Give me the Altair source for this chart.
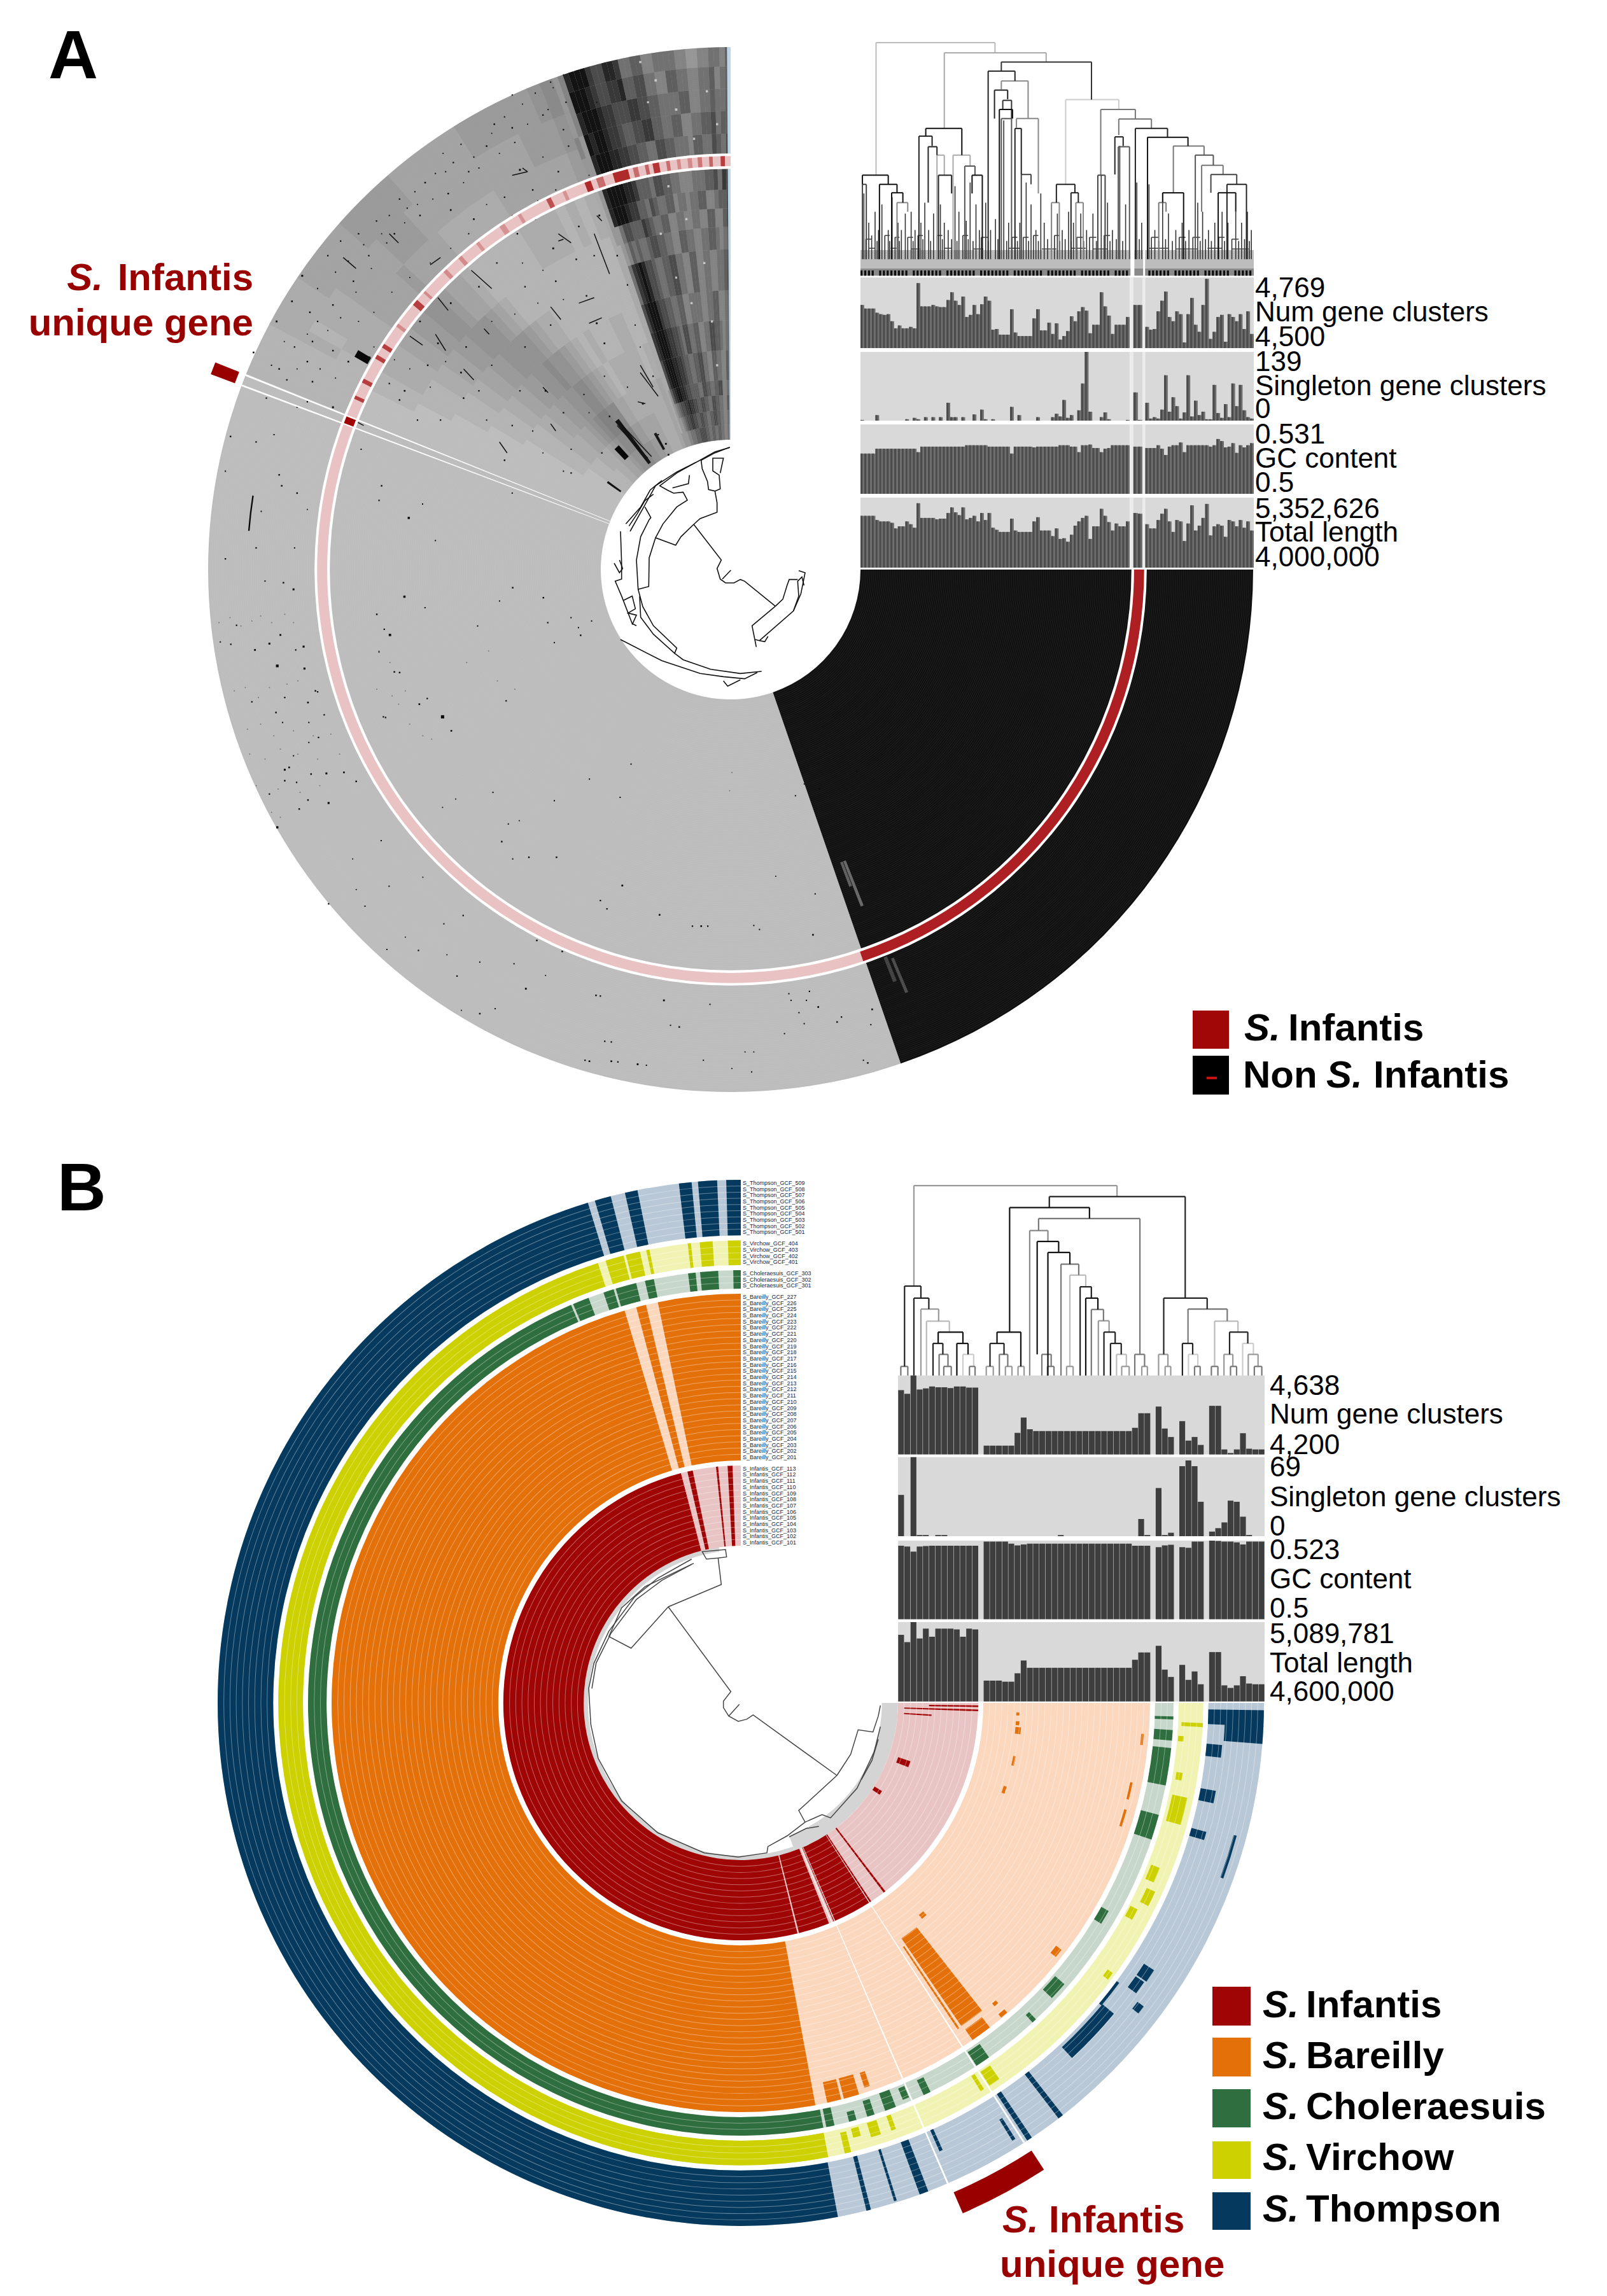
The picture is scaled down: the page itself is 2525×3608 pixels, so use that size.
import altair as alt
import pandas as pd

W, H = 2509, 3590
FONT = "Liberation Sans"
M = 8

# ---------- panel A : genome rings (value units: degrees, genome rank) ----------
A_CX, A_CY = 1148, 895
A_UNITS = 105.2
a_core_gray = [(161, 360, 0, A_UNITS)]
a_core_black = [(90, 161, 0, A_UNITS)]
a_white_ring = [(90, 360, 72.6, 76.7)]
a_red_ring = [(90, 161.3, 73.3, 76.0)]
a_pink_ring = [(161.3, 360, 73.3, 76.0)]
a_ring_specks = [(290.6,291.9,1),(294.4,294.9,.7),(296.9,297.5,.7),(300.7,301.3,.7),(302.5,303.1,.7),(306,306.5,.3),
    (309.8,310.7,.7),(312,312.4,.3),(316,316.6,.3),(318.8,319.4,.3),(322,322.5,.25),(326,326.8,.25),(329,329.5,.25),
    (333.5,334.2,.6),(336,336.5,.25),(339.3,340.2,.8),(341,342,.45),(343.4,345.6,.8),(346.3,347,.45),(348,348.5,.5),
    (349.1,350,.75),(351,351.5,.45),(352.5,353,.3),(354,354.6,.3),(355.4,356,.4),(357,357.5,.5),(358.6,359.2,.7)]
a_seams = [(290.55,290.75),(291.75,291.95)]
a_unique_band = [(290.6,291.9,107.1,114.0)]
a_lines = [(359.6,360,0,A_UNITS)]

# darkness read from the top wedge: one digit per 0.625 degree from 340 to 360, inner band first
a_wedge_start = 340.0
a_wedge_bands = [(0,4),(4,8),(8,12),(12,16),(16,24),(24,32),(32,40),(40,51),(51,57),(57,62),(62,67),(67,72.6),
                 (76.7,82),(82,88),(88,94),(94,100),(100,105.2)]
a_wedge_digits = [
    "22223344455566665544554455443344",
    "12234566776655665544556655443345",
    "12345667787766556655446655443355",
    "12578998876655554466554455663344",
    "11689998877655445566443355443355",
    "11789998776654664455334466554345",
    "11689997665544553344443344553345",
    "11478986654455664433553344334456",
    "11235454456655443355443344554345",
    "12246655576544553344334433553356",
    "12899987755465445534434455334556",
    "12899998875554665544333444556476",
    "22899988776655446655444355446546",
    "32989987765566775544553344556455",
    "23899987766677665544445533445445",
    "23999876677855664433554433445345",
    "23899976688744553344443322334435",
]
# faint darkness of the upper-left sector: one digit per 1.5 degree from 292 to 340
a_dust_start = 292.0
a_dust_bands = [(0,6),(6,12),(12,20),(20,30),(30,40),(40,50),(50,60),(60,72.6),(76.7,85),(85,95),(95,105.2)]
a_dust_digits = [
    "00000000011112233455665544332223",
    "00000000011122234566774433332223",
    "00000001112223345677663322222223",
    "00000001112233445566543212222212",
    "00000011122334455655432121112211",
    "00000111223344555543221111111111",
    "00001112233445554321111111111111",
    "00011222334455433211111122221212",
    "11111222233334333322222233333334",
    "11112122233333444333333333334445",
    "11112222333334444433333344444456",
]
a_black_light = [(158.4,158.9,49,62,.45),(159,159.5,49,56,.4),(157.2,157.6,78,88,.3),(158,158.5,77,84,.25)]
a_streak_arcs = [(322,323.4,1,15.5,.85),(316,318,6,10,.95),(305,305.8,1.3,5.7,.9),(330.5,331.5,2,7,.85),
    (274.6,278.8,94.5,94.9,.95),(299.5,300.5,77,81,.95)]

# speck readings, in two reading grids
lower_specks = [(205,50,9),(458,72,12),(182,30,6),(140,25,4),(705,45,6),(775,75,6),(675,85,4),(505,105,4),(395,125,6),(425,187,14),
 (412,170,5),(75,158,5),(175,187,8),(150,213,9),(117,232,8),(62,215,5),(38,208,4),(228,222,10),(210,232,5),(168,280,18),(230,288,10),
 (435,298,6),(447,300,6),(400,238,4),(255,355,6),(238,390,7),(185,375,5),(110,388,5),(260,358,5),(492,395,7),(510,378,5),(545,433,26),
 (565,475,7),(410,433,5),(415,435,5),(690,385,5),(165,420,6),(275,427,5),(240,450,4),(180,450,4),(262,495,5),(240,510,4),(205,550,4),
 (185,592,9),(195,585,7),(280,603,9),(245,605,6),(320,600,7),(348,627,6),(185,625,6),(212,630,5),(150,665,5),(238,683,6),(285,692,10),
 (218,710,6),(168,765,12),(785,150,5),(838,135,4),(860,188,6),(855,165,4),(800,210,4),(885,145,4),(625,160,4),(975,575,4),(880,620,4),
 (950,675,4),(800,685,4),(660,660,4),(575,680,3),(545,705,3),(720,745,3),(695,755,4),(680,808,6),(742,855,6),(805,855,6),(705,860,4),
 (955,940,8),(905,985,5),(920,1010,5),(1040,1028,7),(1255,1060,4),(1268,1072,4),(1390,1088,7),(1395,965,4),(1305,912,3),(1350,670,4),
 (1490,597,3),(1405,650,4),(1370,635,3),(405,805,4),(340,860,3),(500,915,3),(423,942,4),(348,952,3),(368,1002,4),(285,995,5),(592,1030,5),
 (548,1055,4),(460,1095,3),(418,1132,4),(490,1135,5),(555,1148,3),(630,1170,4),(708,1175,4),(578,1212,5),(780,1210,3),(735,1250,8),
 (665,1310,4),(630,1325,6),(588,1315,3),(895,1270,6),(905,1272,5),(1050,1285,8),(1155,1297,4),(1335,1265,4),(1340,1285,4),(1382,1258,5),
 (1375,1285,4),(1358,1322,4),(1402,1305,7),(1445,1350,6),(1455,1335,5),(1370,1355,4),(1525,1312,7),(1522,1358,4),(1085,1365,6),(1065,1360,4),
 (915,1408,5),(930,1410,5),(1325,1385,4),(1235,1440,3),(1255,1440,3),(880,1468,7),(870,1465,5),(930,1468,7),(945,1470,5),(990,1477,8),
 (1010,1480,4),(1140,1465,4),(1250,1500,4),(1515,1473,6),(1505,1465,4),(1205,1490,3),(760,1105,6),(818,1138,6),(1115,1062,5),(1135,1062,7),(1150,1062,5)]
lower_faint = [(35,150,3),(60,135,3),(85,160,3),(110,145,3),(130,130,3),(155,150,3),(185,125,3),(205,150,3),(70,355,3),(95,345,3),(125,375,3),
 (150,345,3),(190,335,3),(215,325,3),(100,470,3),(130,455,3),(160,490,3),(205,475,3),(250,490,3),(290,485,3),(105,545,3),(140,560,3),(175,530,3),
 (215,545,3),(260,560,3),(310,545,3),(120,640,3),(170,650,3),(220,660,3),(265,640,3),(155,720,3),(175,735,3),(400,235,3),(425,270,3),(395,350,3),
 (430,370,3),(460,355,3),(445,395,3),(470,455,3),(500,490,3),(520,500,3),(670,325,3),(710,350,3),(650,235,3),(600,270,3),(1205,600,3),(1200,655,3)]
upper_specks = [(590,755,9),(570,825,7),(605,855,6),(540,880,8),(495,965,7),(650,960,6),(610,935,6),(720,980,22),(680,990,7),(600,990,6),
 (650,1115,9),(500,1210,5),(450,1195,6),(535,1190,4),(545,1300,6),(550,1330,6),(580,1350,6),(745,1330,6),(798,1418,12),(1115,1295,5),
 (1065,1070,7),(935,1070,5),(790,1070,7),(780,1095,6),(560,1040,5),(520,1090,5),(900,1020,7),(1000,1165,5),(1255,1105,8),(1175,1240,5),
 (640,700,5),(665,660,5),(700,640,5),(735,605,5),(780,545,5),(830,500,6),(885,445,5),(950,400,6),(1000,350,6),(1060,315,5),(1100,355,5),
 (1105,280,5),(965,340,6),(915,470,5),(875,530,6),(820,590,6),(770,640,6),(720,700,5),(690,770,6),(650,835,6),(620,880,5),(575,950,5),
 (880,575,7),(925,600,7),(985,540,5),(1015,465,9),(1040,520,6),(1090,470,6),(1110,400,5),(1130,300,5),(1075,225,4),(1000,260,4),
 (1010,640,6),(1045,600,6),(1080,680,8),(1130,620,6),(1170,590,8),(1125,710,6),(1085,770,6),(1025,785,5),(970,720,5),(935,785,6),
 (880,830,7),(820,880,6),(770,930,6),(720,1020,6),(760,1050,5),(835,1000,6),(905,1090,6),(860,1150,5),(815,1150,5),(950,1150,4),
 (1015,1070,5),(1140,1080,4),(1180,940,7),(1240,890,4),(1275,1030,5),(1190,1140,6),(1100,1130,5),(1040,1180,4),(985,1260,6),(1115,1230,4),
 (1165,885,8),(1145,810,6),(1225,780,5),(1205,700,6),(1160,700,5),(1075,890,5),(1025,950,5),(960,1000,4),(910,950,6),(855,940,7),
 (1300,1215,8),(1305,1245,7),(1285,1190,5),(600,1100,5),(545,1010,6),(610,1045,6),(580,1115,4),(440,1290,4),(510,1400,4),(440,1530,5),
 (825,1380,4),(740,1370,5),(705,1230,4),(640,1300,5),(600,1395,3),(850,1480,4),(575,1500,4),(500,1500,5),(1100,1290,4),(1000,1350,4),
 (620,790,4),(655,745,4),(680,715,4),(710,670,4),(745,640,3),(760,590,4),(795,570,4),(810,525,4),(850,475,4),(865,420,3),(900,395,4),(925,430,4),
 (960,365,3),(985,320,4),(1020,285,3),(1045,255,4),(1080,240,3),(1100,205,3),(1070,300,4),(1030,340,3),(1005,390,4),(975,420,3),(935,460,4),
 (905,500,3),(870,470,4),(845,545,3),(815,560,3),(790,610,3),(755,665,4),(725,735,3),(695,800,3),(665,870,4),(640,905,3),(600,915,3),(555,935,3),
 (530,1000,4),(580,1010,3),(625,1010,4),(655,1035,3),(700,1060,3),(730,950,3),(770,985,3),(800,1010,3),(840,1060,3),(870,990,3),(700,880,3),
 (730,855,3),(765,800,3),(800,760,3),(840,720,3),(880,680,3),(915,640,4),(950,640,3),(950,560,3),(1000,590,3),(1050,550,3),(1060,430,3),(1150,340,3),
 (1085,520,4),(1120,530,3),(1150,480,3),(1185,420,3),(1165,280,3),(1020,720,3),(1060,740,3),(1100,820,3),(1050,830,3),(1005,860,3),(960,880,3),
 (1250,950,3),(1180,1030,4),(1225,1060,4),(1150,1130,3),(1060,1240,3)]
wedge_light = [(1280,220,14),(1320,300,14),(1355,380,12),(1250,170,12),(1380,250,12),(1400,340,12),(1305,510,12),(1340,600,12),(1375,720,12),
 (1350,830,12),(1390,880,12),(1400,1000,12),(1290,640,12),(1320,760,10),(1265,280,10)]
upper_streaks = [(670,705,695,735),(855,815,875,850),(800,920,825,945),(850,915,870,960),(905,1010,925,1040),(760,640,778,665),
 (1090,640,1115,665),(1160,640,1190,750),(1165,590,1175,605),(1020,460,1030,470),(1130,830,1160,815),(1150,885,1175,870),(975,1210,990,1240),
 (1075,1160,1085,1180),(1250,1020,1285,1085),(1245,1100,1260,1105),(920,740,960,790),(840,725,860,705),(1205,1165,1265,1255),(1215,1165,1272,1250),
 (1075,840,1095,875),(1250,1000,1275,1060),(945,900,955,915),(1060,1060,1070,1075),(1100,655,1090,660),(1030,470,1000,480),(690,1150,710,1165)]

# ---------- panel A : per-genome tracks, percent of each track's printed range ----------
a_num_left = [61,56,56,56,50,48,47,48,38,28,32,28,28,30,28,92,59,59,59,61,59,58,58,68,79,67,61,73,44,47,61,48,62,73,67,26,27,19,19,19,
              55,22,17,17,17,17,42,55,25,25,36,20,35,12,17,24,45,38,52,58,53,21,33,33,79,59,46,20,33,33,33,44]
a_num_mid = [61,61]
a_num_right = [30,26,27,52,67,80,44,38,52,48,8,48,71,33,23,61,98,13,23,44,47,9,48,44,38,48,27,52,20]
a_sing_left = [1,0,0,0,8,0,0,0,0,0,0,0,2,0,4,2,0,5,0,5,0,5,0,26,5,5,0,5,0,0,9,0,16,2,0,2,0,0,0,0,
               20,0,8,0,0,0,0,5,0,0,0,5,10,6,30,4,8,0,15,54,100,13,0,0,5,12,2,0,0,0,0,1]
a_sing_mid = [41,1]
a_sing_right = [26,3,5,3,16,66,13,34,21,3,12,66,6,29,8,13,2,2,52,11,4,24,5,54,21,52,15,5,3]
a_gc_left = [58,58,58,58]+[65]*11+[60]+[68]*12+[70]*6+[68]*6+[58]+[68]*5+[67]+[68]*6+[70]*3+[68]*2+[60,70,70,71,66,66,60,65,66]+[70]*5
a_gc_mid = [68,68]
a_gc_right = [66,66,66,70,65,56,68,70,70,74,60,70,70,70,70,70,70,68,70,79,76,67,68,73,59,70,67,70,73]
a_len_left = [74,74,74,74,68,66,66,66,64,56,59,59,66,62,57,92,71,71,71,71,69,70,70,78,86,79,75,86,69,71,74,66,78,68,78,57,54,51,51,51,
              70,53,51,51,51,51,66,72,53,53,53,45,56,41,42,37,47,60,66,71,74,41,59,59,84,74,65,53,63,59,59,66]
a_len_mid = [78,77]
a_len_right = [62,56,56,68,77,84,66,51,68,66,38,63,89,53,60,71,91,46,59,62,60,44,68,66,59,68,57,66,53]

# ---------- panel B : genome tracks, in their printed units ----------
b_groups = [13, 27, 3, 4, 9]
B_GAP = 0.82
b_num = [4557,4537,4638,4561,4567,4577,4573,4573,4569,4577,4577,4571,4571,
         4249,4249,4249,4249,4249,4320,4405,4340]+[4330]*16+[4348,4429,4429]+[4466,4344,4297,4385,4277,4297,4253,
         4470,4470,4228,4208,4228,4318,4232,4228,4228]
b_single = [36,0,69,1,1,0,1,1,0,0,0,0,0]+[0]*12+[1]+[0]*12+[15,1]+[42,1,3,61,66,61,30,4,7,12,31,30,17,1,0,0]
b_gc = [.5215,.5213,.5198,.5213,.5214,.5215,.5215,.5215,.5215,.5215,.5215,.5215,.5215,
        .5227,.5227,.5227,.5227,.5221,.5216,.5219]+[.5221]*17+[.5215,.5215,.5215]+[.5211,.5216,.5218,.5211,.5209,.5227,.5227,
        .523,.5229,.5227,.5227,.5225,.5219,.5227,.5227,.5227]
b_len = [5010800,4965600,5089781,4988200,5049100,4999500,5049100,5049100,5049100,5044600,4999500,5049100,5044600,
         4728600,4728600,4728600,4722000,4722000,4773800,4852800]+[4807700]*17+[4857300,4902400,4902400]+[4943100,4796400,4751200,4825700,4733200,4785100,4706100,
         4904700,4904700,4699300,4683500,4699300,4755700,4710600,4706100,4706100]

# ---------- panel B : rings ----------
B_CX, B_CY = 1164, 2676
b_names = ["Infantis", "Bareilly", "Choleraesuis", "Virchow", "Thompson"]
b_dark = ["#a00505", "#e4700a", "#2f6e3e", "#cdd100", "#053a5e"]
b_pale = ["#e9c4c4", "#fbd7be", "#c8d7cb", "#f0f3b2", "#b8c8d6"]
b_dark_segments = [
    [(146.7,157),(158.2,165.8),(166.2,345.5),(347,348.3),(354,354.5),(356.8,358),(142.5,143)],
    [(169.5,343.5),(345.2,346.6),(348.3,360)],
    [(169,336.9),(337.2,339.4),(341.5,342.9),(343.2,346),(347.2,348.4),(353,354),(354.6,357),(359,360)],
    [(169.1,342),(343,345.3),(345.6,347.4),(348.2,348.6),(353.4,353.8),(354.9,356.5),(358.4,360)],
    [(169.3,343),(343.8,345.6),(347.2,348.6),(353.2,354.6),(355.3,357.4),(358.4,360)],
]
b_patches = [
    (109,111,1.5,3.6,0),(122,123.5,.1,1.5,0),(91.6,92,1,13,0),(93.5,93.9,1,5.5,0),(90.6,91,5,13,0),
    (141.9,145.7,20.7,37.9,1),(142.5,145.5,38.7,40.8,1),(165.8,167.8,37.4,40.8,1),(163.2,165.4,37.4,40.8,1),(92,92.6,19.2,19.7,1),
    (93.8,94.6,19.2,19.8,1),(95,96.4,19.2,20.1,1),(94.4,96,39.6,40,1),(101,103,19.5,19.9,1),(107.5,109,19.2,19.7,1),(101.5,104,38.9,39.3,1),
    (105.5,108,39,39.4,1),(138.8,140,19.4,20.2,1),(127.6,128.9,39,40.1,1),(139.4,140.1,38,38.6,1),(139.3,140.4,40,40.7,1),(146.1,146.4,22,38,1),
    (161.4,162.2,37.5,40,1),
    (96,101,41.64,44.64,2),(93.6,95,41.64,44.64,2),(91.8,92.2,41.64,44.64,2),(105,108.4,41.64,44.64,2),(119.5,121.5,41.64,43,2),(131,133.5,42,44,2),
    (145,147,42,44.64,2),(154,155,42,44.64,2),(156.9,157.8,42,44,2),(159,160.5,41.64,44.64,2),(162,163,42,44.64,2),(164.5,165.5,43,44.64,2),
    (167.5,168.6,41.64,44.64,2),(137,137.6,43,44.64,2),
    (102,105.5,46,48.5,3),(111.5,113.5,46,47.5,3),(114.5,116.5,46.8,48.3,3),(117.5,119,45.7,47,3),(126,127,48,49,3),(94.3,95,45.6,46.5,3),
    (92.5,93,46,49.46,3),(99,100,46,47,3),(145.5,147,45.8,48.5,3),(147.8,148.3,45.6,48.5,3),(160,160.6,45.5,48,3),(162,163.3,45.6,48,3),
    (164.5,165.5,45.8,47.3,3),(166.2,167,46,49.46,3),
    (90.8,92.6,50.28,59.28,4),(92.5,94.5,53,59.28,4),(95,96.5,50.28,52.8,4),(100.5,102,50.3,52.8,4),(105.5,106.5,50.3,52.8,4),(105,110,57.2,57.7,4),
    (122.9,124.5,52.3,54.3,4),(124.7,126.3,52.3,54,4),(127,128,55,56.3,4),(129.8,137,50.8,53.2,4),(126.5,130,50.3,50.8,4),(142,142.6,50.28,59.28,4),
    (146.2,146.8,50.28,59.28,4),(159,160,50.28,59.28,4),(165.6,166.1,50.28,59.28,4),(162.6,162.9,50.28,59,4),(155.7,156.1,50.28,54,4),(147.8,148.2,54,58,4),
]
b_gray_ring = [(90,160,-2.6,0),(160,352,-0.7,0.2)]
b_white_lines = [(147.1,147.3,0,59.28),(156.6,156.8,0,59.28),(345.4,345.5,0,13),(157.4,157.6,0,13)]
b_unique_band = [(147,156.5,61,64.7)]

# ---------- dendrograms ----------
# (left, right, height, left end, right end, shade)
tree_b_nodes = [(117,552,110,385,140,"#999"),(407,698,140,170,418,"#222"),(322,493,170,510,200,"#111"),(384,601,200,233,572,"#777"),
 (365,404,233,630,263,"#888"),(381,427,263,572,293,"#111"),(404,451,293,630,325,"#111"),(432,470,325,630,355,"#777"),(451,485,355,605,387,"#bbb"),
 (473,497,387,630,418,"#222"),(485,511,418,630,449,"#111"),(497,523,449,630,480,"#777"),(512,535,480,630,511,"#999"),(524,548,511,630,542,"#222"),
 (538,561,542,630,572,"#222"),(551,572,572,630,605,"#bbb"),(562,578,605,630,630,"#999"),(590,611,572,630,605,"#777"),(605,617,605,630,630,"#999"),
 (391,411,572,630,605,"#777"),(403,417,605,630,630,"#777"),(444,458,605,630,630,"#999"),
 (97,132,385,605,418,"#222"),(89,104,605,630,630,"#777"),(117,149,418,630,448,"#222"),(132,170,448,630,481,"#999"),(144,193,481,630,511,"#bbb"),
 (169,222,511,542,542,"#111"),(158,179,542,630,572,"#222"),(171,190,572,630,605,"#777"),(181,197,605,630,630,"#777"),(209,233,542,630,572,"#111"),
 (222,245,572,630,605,"#ccc"),(236,248,605,630,630,"#777"),
 (295,346,511,542,605,"#111"),(280,310,542,605,572,"#222"),(300,318,572,630,605,"#777"),(272,287,605,630,630,"#999"),(313,327,605,630,630,"#999"),(340,353,605,630,630,"#999"),
 (652,745,418,572,448,"#222"),(704,788,448,542,481,"#777"),(641,661,572,630,605,"#999"),(655,667,605,630,630,"#999"),(692,714,542,630,572,"#222"),
 (705,725,572,630,605,"#ccc"),(718,730,605,630,630,"#777"),(761,811,481,605,511,"#bbb"),(754,768,605,630,630,"#777"),(793,832,511,572,542,"#222"),
 (781,800,572,630,605,"#999"),(795,808,605,630,630,"#777"),(821,844,542,630,572,"#ccc"),(833,854,572,630,605,"#999"),(846,862,605,630,630,"#777")]
tree_a_nodes = [(100,344,47,410,75,"#bbb"),(240,449,75,282,100,"#aaa"),(357,542,100,125,203,"#333"),(330,385,125,640,152,"#222"),(357,412,152,175,255,"#888"),
 (343,370,177,255,202,"#222"),(360,378,205,230,255,"#333"),(353,380,230,640,255,"#111"),(357,378,255,640,640,"#555"),(388,433,255,280,460,"#888"),
 (385,398,282,640,408,"#222"),(398,418,408,640,435,"#444"),(72,125,410,435,435,"#111"),(107,143,435,640,458,"#111"),(132,155,458,640,485,"#111"),
 (143,165,485,640,510,"#888"),(72,80,435,640,640,"#444"),(202,276,282,303,355,"#111"),(188,215,303,640,330,"#222"),(207,225,332,485,355,"#222"),
 (225,240,355,640,410,"#aaa"),(228,255,410,640,460,"#222"),(258,293,355,640,385,"#aaa"),(282,303,385,640,410,"#555"),(297,318,410,460,640,"#111"),
 (489,598,203,435,230,"#ccc"),(561,632,230,410,255,"#777"),(598,665,256,300,282,"#777"),(632,698,282,640,305,"#222"),(657,740,306,640,330,"#111"),
 (710,773,330,458,355,"#777"),(755,792,355,640,383,"#555"),(768,812,383,510,408,"#777"),(787,840,408,458,435,"#444"),(820,860,435,640,640,"#222"),
 (802,838,458,640,510,"#111"),(590,607,305,408,330,"#222"),(597,620,332,640,640,"#555"),(470,508,435,485,458,"#222"),(500,515,458,640,485,"#222"),
 (688,731,458,485,640,"#111"),(680,695,485,640,510,"#777"),(555,570,410,640,640,"#444"),(460,476,485,640,640,"#888"),(510,525,485,640,640,"#888")]
tree_a_stems = [(75,460),(85,540),(98,510),(105,560),(112,490),(125,560),(133,470),(145,540),(152,560),(160,515),(172,510),(180,560),(192,540),(200,485),
 (208,560),(218,515),(232,490),(240,540),(248,560),(262,440),(270,510),(285,535),(293,430),(305,490),(312,560),(325,485),(335,560),(345,530),(362,260),
 (372,540),(385,560),(395,540),(408,430),(418,490),(428,560),(438,460),(445,540),(460,490),(472,515),(482,560),(495,510),(505,540),(520,515),(532,560),
 (545,515),(562,410),(575,485),(585,560),(600,330),(612,490),(635,430),(645,540),(660,435),(672,560),(688,460),(700,515),(715,560),(728,540),(742,560),
 (760,485),(770,510),(782,560),(795,540),(810,510),(822,540),(838,510),(850,540),(862,510),(870,560),
 (79,585),(91,575),(102,590),(118,575),(128,590),(139,580),(148,590),(165,580),(176,590),(186,575),(196,585),(212,590),(225,575),(236,585),(255,585),(266,590),
 (278,575),(289,585),(299,590),(316,580),(330,590),(350,585),(368,590),(379,580),(390,590),(402,580),(413,590),(423,575),(433,590),(452,585),(466,575),(477,590),
 (488,585),(500,590),(512,580),(526,590),(538,580),(552,590),(568,575),(580,590),(593,585),(606,590),(640,585),(665,580),(680,590),(694,585),(708,590),(722,580),
 (735,590),(750,580),(765,590),(776,585),(788,590),(803,580),(815,590),(830,585),(844,590),(856,585),(866,590)]
tree_a_twigs = [(79,91,585),(118,128,575),(139,148,580),(165,176,580),(186,196,575),(225,236,575),(278,289,575),(316,330,580),(379,390,580),(402,413,580),
 (423,433,575),(466,477,575),(512,526,580),(538,552,580),(568,580,575),(665,680,580),(722,735,580),(750,765,580),(803,815,580),(830,844,585),
 (85,98,610),(130,145,610),(172,190,612),(240,255,610),(300,320,612),(372,395,610),(440,470,612),(500,530,610),(545,575,612),(660,700,610),(715,760,612),(780,810,610),(830,865,612)]
# polylines of the radial trees, read on a square reading grid
tree_a_center = [
 [(480,432),(610,600),(590,640),(605,690),(630,708),(670,708),(700,692),(720,700),(865,818)],
 [(615,690),(655,648)],
 [(865,818),(900,785),(920,720),(930,692),(970,692)],
 [(865,818),(755,910),(765,960),(775,1010)],
 [(790,980),(950,840),(985,760),(1005,660),(975,650)],
 [(480,432),(510,405),(590,375),(590,330),(580,275),(550,268),(545,230),(520,170),(515,130),(580,95),(650,68)],
 [(580,275),(605,265),(600,200),(570,180),(570,120),(620,120),(605,190)],
 [(480,432),(420,490),(395,530),(300,495),(335,430),(400,350),(450,318),(430,280),(385,285),(355,270),(320,250),(400,190),(490,140)],
 [(380,260),(455,240),(460,200)],
 [(300,495),(270,590),(268,725),(218,738),(210,600),(230,490),(270,410),(278,400),(250,350)],
 [(218,738),(240,820),(290,910),(400,1015),(390,1040),(290,950),(230,870),(225,770)],
 [(390,1040),(430,1070),(560,1115),(700,1135),(800,1125)],
 [(135,975),(330,1075),(510,1135),(620,1150),(720,1160),(780,1130)],
 [(620,1170),(640,1195),(700,1165)],
 [(135,465),(140,610),(140,690),(110,700),(140,770),(190,900),(210,910)],
 [(105,615),(130,660),(145,640),(130,600)],
 [(180,465),(250,340),(300,250),(400,185),(500,135),(580,90),(650,70)],
 [(175,440),(215,380),(250,320),(290,290)],
 [(150,790),(190,770),(205,830),(170,850),(210,860),(190,905)],
 [(770,975),(790,980),(815,985),(830,960)],
 [(950,840),(975,770),(970,700),(990,680),(1000,720)],
 [(160,430),(230,350),(275,270),(330,225)],
]
tree_b_center = [
 [(450,315),(745,715),(710,760),(710,790),(735,830),(780,855),(820,845),(850,825),(1245,1110)],
 [(735,830),(785,775)],
 [(1245,1110),(1310,1010),(1345,895),(1415,905),(1440,830),(1450,780)],
 [(1245,1110),(1065,1275),(1095,1330),(1175,1295),(1215,1310),(1340,1170),(1420,1000),(1450,880)],
 [(1095,1330),(1010,1395),(920,1445),(915,1475),(780,1495),(620,1475),(400,1380),(230,1230),(120,1030),(85,870),(75,700),(100,580),(170,430),(290,270),(400,180),(560,90)],
 [(450,315),(275,510),(170,455),(230,320),(340,220),(570,110)],
 [(450,315),(700,210),(685,85),(630,90),(610,55),(720,45),(725,80),(685,85)],
 [(90,700),(110,580),(180,440),(300,280),(420,190),(560,115)],
 [(1020,1400),(1100,1360),(1160,1350)],
 [(1360,1130),(1410,1040),(1440,940)],
]

# ---------- helpers ----------
PI2 = 6.283185307
def arcs(rows, cx, cy, rdom, rrng, color=None, op=None):
    cols = ["t0", "t1", "r0", "r1"] + (["op"] if rows and len(rows[0]) == 5 else [])
    df = pd.DataFrame(rows, columns=cols)
    kw = {}
    if color is not None:
        kw["color"] = color
    if op is not None:
        kw["opacity"] = op
    enc = dict(
        x=alt.value(cx - M), y=alt.value(cy - M),
        theta=alt.Theta("t0:Q", scale=alt.Scale(domain=[0, 360], range=[0, PI2])),
        theta2=alt.Theta2("t1:Q"),
        radius=alt.Radius("r0:Q", scale=alt.Scale(type="linear", domain=rdom, range=rrng, zero=False)),
        radius2=alt.Radius2("r1:Q"),
    )
    if "op" in cols:
        enc["opacity"] = alt.Opacity("op:Q", scale=None)
    return alt.Chart(df).mark_arc(**kw).encode(**enc)

a_dom, a_rng = [0, A_UNITS], [204, 821]
def a_arc(rows, color, op=None):
    return arcs(rows, A_CX, A_CY, a_dom, a_rng, color, op)

b_total = sum(b_groups) + B_GAP * (len(b_groups) - 1)
b_dom, b_rng = [0, b_total], [247, 822]
def b_arc(rows, color, op=None):
    return arcs(rows, B_CX, B_CY, b_dom, b_rng, color, op)

def xs(dom, rng):
    return alt.Scale(domain=dom, range=[rng[0] - M, rng[1] - M], zero=False, nice=False)

def rects(rows, xdom, xrng, ydom, yrng, color):
    df = pd.DataFrame(rows, columns=["a", "b", "lo", "hi"])
    return alt.Chart(df).mark_rect(color=color).encode(
        x=alt.X("a:Q", scale=xs(xdom, xrng), axis=None), x2="b:Q",
        y=alt.Y("lo:Q", scale=xs(ydom, yrng), axis=None), y2="hi:Q")

def texts(rows, size, color="#000", bold=False, italic=False, align="left"):
    df = pd.DataFrame(rows, columns=["s", "px", "py"])
    df["px"] -= M
    df["py"] -= M
    kw = dict(font=FONT, fontSize=size, color=color, align=align, baseline="alphabetic")
    if bold:
        kw["fontWeight"] = "bold"
    if italic:
        kw["fontStyle"] = "italic"
    return alt.Chart(df).mark_text(**kw).encode(
        x=alt.X("px:Q", scale=None, axis=None), y=alt.Y("py:Q", scale=None, axis=None), text="s:N")

def tree(nodes, xdom, xrng, yrng, width):
    out = []
    for shade in sorted(set(n[5] for n in nodes), reverse=True):
        hs, vs = [], []
        for a, b, h, la, ra, s in nodes:
            if s != shade:
                continue
            hs.append((a, b, h))
            vs += [(a, h, la), (b, h, ra)]
        sx, sy = xs(xdom, xrng), xs([0, 1568], yrng)
        out.append(alt.Chart(pd.DataFrame(hs, columns=["a", "b", "h"])).mark_rule(color=shade, strokeWidth=width).encode(
            x=alt.X("a:Q", scale=sx, axis=None), x2="b:Q", y=alt.Y("h:Q", scale=sy, axis=None)))
        out.append(alt.Chart(pd.DataFrame(vs, columns=["a", "h", "e"])).mark_rule(color=shade, strokeWidth=width).encode(
            x=alt.X("a:Q", scale=sx, axis=None), y=alt.Y("h:Q", scale=sy, axis=None), y2="e:Q"))
    return out

def polylines(paths, grid, xrng, yrng, color, width):
    rows = [(i, j, p[0], p[1]) for i, path in enumerate(paths) for j, p in enumerate(path)]
    df = pd.DataFrame(rows, columns=["b", "o", "u", "v"])
    return alt.Chart(df).mark_line(color=color, strokeWidth=width).encode(
        x=alt.X("u:Q", scale=xs([0, grid], xrng), axis=None),
        y=alt.Y("v:Q", scale=xs([0, grid], yrng), axis=None),
        detail="b:N", order="o:Q")

def specks(rows, xrng, yrng, color="#0c0c0c", op=1):
    df = pd.DataFrame(rows, columns=["u", "v", "sz"])
    return alt.Chart(df).mark_point(filled=True, shape="square", color=color, opacity=op).encode(
        x=alt.X("u:Q", scale=xs([0, 1568], xrng), axis=None),
        y=alt.Y("v:Q", scale=xs([0, 1568], yrng), axis=None),
        size=alt.Size("sz:Q", scale=None))

L = []
# ---- panel A rings
L.append(a_arc(a_core_gray, "#bcbcbc"))
L.append(a_arc(a_core_black, "#101010"))
a_ring_rows = [(90, 360, i * 0.5, i * 0.5 + 0.15, 0.07) for i in range(2 * int(A_UNITS))]
L.append(a_arc(a_ring_rows, "#ffffff"))
dust_rows = []
for (r0, r1), digits in zip(a_dust_bands, a_dust_digits):
    for k, d in enumerate(digits):
        if d != "0":
            dust_rows.append((a_dust_start + 1.5 * k, a_dust_start + 1.5 * (k + 1), r0, r1, int(d) * 0.045))
L.append(a_arc(dust_rows, "#000000"))
wedge_rows = []
for (r0, r1), digits in zip(a_wedge_bands, a_wedge_digits):
    for k, d in enumerate(digits):
        wedge_rows.append((a_wedge_start + 0.625 * k, a_wedge_start + 0.625 * (k + 1), r0, r1, int(d) * 0.1))
L.append(a_arc(wedge_rows, "#000000"))
L.append(a_arc(a_streak_arcs, "#000000"))
L.append(a_arc(a_black_light, "#d0d0d0"))
L.append(specks(lower_faint, (320, 1400), (900, 1720), "#555555", 0.7))
L.append(specks(lower_specks, (320, 1400), (900, 1720)))
L.append(specks(upper_specks, (0, 1262), (0, 900)))
L.append(specks(wedge_light, (0, 1262), (0, 900), "#cfcfcf", 0.9))
L.append(alt.Chart(pd.DataFrame(upper_streaks, columns=["a", "b", "c", "d"])).mark_rule(color="#111", strokeWidth=1.5).encode(
    x=alt.X("a:Q", scale=xs([0, 1568], (0, 1262)), axis=None), y=alt.Y("b:Q", scale=xs([0, 1568], (0, 900)), axis=None),
    x2="c:Q", y2="d:Q"))
L.append(a_arc(a_lines, "#bcd7ea"))
L.append(a_arc(a_white_ring, "#ffffff"))
L.append(a_arc(a_pink_ring, "#e9c3c3"))
L.append(a_arc(a_red_ring, "#ad1f22"))
L.append(a_arc([(t0, t1, 73.3, 76.0, o) for t0, t1, o in a_ring_specks], "#a00505"))
L.append(a_arc([(t0, t1, 0, A_UNITS) for t0, t1 in a_seams], "#ffffff"))
L.append(a_arc(a_unique_band, "#990000"))
L.append(polylines(tree_a_center, 1290, (930, 1360), (680, 1110), "#111", 1.6))

# ---- panel A tracks
a_groups = [(0, 1.0, 72), (73, 1.2, 2), (76.2, 1.0, 29)]
a_dom_x = [0, A_UNITS]
a_x_rng = (1352, 1970)
a_tracks = [
    (a_num_left, a_num_mid, a_num_right, 547, 436),
    (a_sing_left, a_sing_mid, a_sing_right, 661, 553),
    (a_gc_left, a_gc_mid, a_gc_right, 776, 667),
    (a_len_left, a_len_mid, a_len_right, 892, 782),
]
for left, mid, right, bottom, top in a_tracks:
    L.append(rects([(0, A_UNITS, 0, 100)], a_dom_x, a_x_rng, [0, 100], (bottom, top), "#d9d9d9"))
    L.append(rects([(72, 73, 0, 100), (75.4, 76.2, 0, 100)], a_dom_x, a_x_rng, [0, 100], (bottom, top), "#ececec"))
    full, core = [], []
    for (start, w, n), vals in zip(a_groups, (left, mid, right)):
        for i, v in enumerate(vals[:n]):
            full.append((start + i * w, start + (i + 1) * w, 0, v))
            core.append((start + i * w, start + (i + 0.55) * w, 0, v))
    L.append(rects(full, a_dom_x, a_x_rng, [0, 100], (bottom, top), "#6e6e6e"))
    L.append(rects(core, a_dom_x, a_x_rng, [0, 100], (bottom, top), "#4c4c4c"))

# ---- panel A dendrogram
tree_x_a, tree_y_a = [68, 875], (40, 940)
L.append(rects([(68, 622, 615, 665), (630, 648, 615, 665), (652, 875, 615, 665)], tree_x_a, (1352, 1970), [0, 1568], tree_y_a, "#bdbdbd"))
L.append(rects([(68, 622, 665, 685), (630, 648, 665, 685), (652, 875, 665, 685)], tree_x_a, (1352, 1970), [0, 1568], tree_y_a, "#8a8a8a"))
stem_rows = [(x, t, 640) for x, t in tree_a_stems]
L.append(alt.Chart(pd.DataFrame(stem_rows, columns=["a", "h", "e"])).mark_rule(color="#333", strokeWidth=1.6).encode(
    x=alt.X("a:Q", scale=xs(tree_x_a, (1352, 1970)), axis=None),
    y=alt.Y("h:Q", scale=xs([0, 1568], tree_y_a), axis=None), y2="e:Q"))
L.append(alt.Chart(pd.DataFrame(tree_a_twigs, columns=["a", "b", "h"])).mark_rule(color="#444", strokeWidth=1.6).encode(
    x=alt.X("a:Q", scale=xs(tree_x_a, (1352, 1970)), axis=None), x2="b:Q",
    y=alt.Y("h:Q", scale=xs([0, 1568], tree_y_a), axis=None)))
tick_rows = []
for i in range(0, 72):
    if i % 9 != 4:
        tick_rows.append((i, i + 0.55, 82, 100))
for i in range(77, 105):
    if i % 8 != 3:
        tick_rows.append((i, i + 0.55, 82, 100))
L.append(rects(tick_rows, a_dom_x, a_x_rng, [0, 100], (640 / 1.742 + 40 - 20, 685 / 1.742 + 40), "#0d0d0d"))
L += tree(tree_a_nodes, tree_x_a, (1352, 1970), tree_y_a, 2.0)

# ---- panel B rings
pos = 0.0
b_ring_edges = []
b_group_span = []
for n in b_groups:
    b_group_span.append((pos, pos + n))
    b_ring_edges += [pos + k for k in range(1, n)]
    pos += n + B_GAP
L.append(b_arc(b_gray_ring, "#d4d4d4"))
for k, (lo, hi) in enumerate(b_group_span):
    L.append(b_arc([(90, 360, lo, hi)], b_pale[k]))
    L.append(b_arc([(t0, t1, lo, hi) for t0, t1 in b_dark_segments[k]], b_dark[k]))
    L.append(b_arc([p[:4] for p in b_patches if p[4] == k], b_dark[k]))
L.append(b_arc([(90, 360, e - 0.05, e + 0.05) for e in b_ring_edges], "#ffffff", 0.38))
L.append(b_arc(b_white_lines, "#ffffff"))
L.append(b_arc(b_unique_band, "#990000"))
L.append(polylines(tree_b_center, 1560, (900, 1420), (2420, 2940), "#444", 1.5))

# ---- panel B genome labels
lab_rows = []
for k, (lo, hi) in enumerate(b_group_span):
    for i in range(int(hi - lo)):
        lab_rows.append((f"S_{b_names[k]}_GCF_{k+1}{i+1:02d}", lo + i + 0.5))
L.append(alt.Chart(pd.DataFrame(lab_rows, columns=["s", "p"])).mark_text(
    font=FONT, fontSize=9, color="#141e3c", align="left", baseline="middle").encode(
    x=alt.value(1167 - M), y=alt.Y("p:Q", scale=xs(b_dom, (B_CY - 247, B_CY - 822)), axis=None), text="s:N"))

# ---- panel B tracks
b_x_rng = (1411, 1987)
b_tracks = [(b_num, 4200, 4638, 2285.6, 2161.6), (b_single, 0, 69, 2414, 2289.7),
            (b_gc, 0.5, 0.523, 2544.5, 2421), (b_len, 4600000, 5089781, 2673.7, 2549)]
for vals, lo, hi, bottom, top in b_tracks:
    L.append(rects([(0, b_total, lo, hi)], b_dom, b_x_rng, [lo, hi], (bottom, top), "#d9d9d9"))
    rows, idx = [], 0
    for (g0, g1) in b_group_span:
        for k in range(int(g1 - g0)):
            rows.append((g0 + k + 0.03, g0 + k + 0.97, lo, vals[idx]))
            idx += 1
    L.append(rects(rows, b_dom, b_x_rng, [lo, hi], (bottom, top), "#3e3e3e"))
L += tree(tree_b_nodes, [83, 868], b_x_rng, (1800, 2700), 2.2)

# ---- text
L.append(texts([("A", 76, 123)], 108, bold=True))
L.append(texts([("B", 90, 1902)], 106, bold=True))
RED = "#990000"
L.append(texts([("Infantis", 398, 456), ("unique gene", 398, 527)], 60, RED, bold=True, align="right"))
L.append(texts([("S.", 162, 456)], 60, RED, bold=True, italic=True, align="right"))
L.append(texts([("S.", 1575, 3508)], 60, RED, bold=True, italic=True))
L.append(texts([("Infantis", 1648, 3508), ("unique gene", 1571, 3578)], 60, RED, bold=True))
track_a = [("4,769",466.5),("Num gene clusters",505),("4,500",544),("139",582.5),("Singleton gene clusters",621),("0",657),
           ("0.531",697),("GC content",735),("0.5",773),("5,352,626",814),("Total length",851),("4,000,000",890)]
track_b = [("4,638",2192),("Num gene clusters",2237),("4,200",2285),("69",2319.5),("Singleton gene clusters",2367),("0",2413),
           ("0.523",2450),("GC content",2496),("0.5",2542),("5,089,781",2582),("Total length",2628),("4,600,000",2672.6)]
L.append(texts([(s, 1972, y) for s, y in track_a], 44))
L.append(texts([(s, 1995, y) for s, y in track_b], 44))

# legends
def legend_boxes(rows):
    df = pd.DataFrame(rows, columns=["x0", "x1", "y0", "y1", "c"])
    for c in ["x0", "x1", "y0", "y1"]:
        df[c] -= M
    return alt.Chart(df).mark_rect().encode(
        x=alt.X("x0:Q", scale=None, axis=None), x2="x1:Q",
        y=alt.Y("y0:Q", scale=None, axis=None), y2="y1:Q",
        color=alt.Color("c:N", scale=None))
L.append(legend_boxes([(1874, 1931, 1588, 1648, "#a00808"), (1874, 1931, 1659, 1720, "#000000"), (1896, 1912, 1692, 1696, "#c81010")]))
L.append(texts([("S.", 1955, 1635), ("S.", 2084, 1709)], 60, bold=True, italic=True))
L.append(texts([("Infantis", 2024, 1635), ("Non", 1953, 1709), ("Infantis", 2158, 1709)], 60, bold=True))
legend_y = [(3122, 3183), (3202, 3263), (3283, 3343), (3365, 3424), (3445, 3504)]
legend_b_base = [3170, 3250, 3330, 3410, 3491]
L.append(legend_boxes([(1905, 1965, a, b, c) for (a, b), c in zip(legend_y, b_dark)]))
L.append(texts([("S.", 1984, y) for y in legend_b_base], 60, bold=True, italic=True))
L.append(texts([(n, 2052, y) for n, y in zip(b_names, legend_b_base)], 60, bold=True))

chart = alt.layer(*L).properties(width=W, height=H, padding=0, autosize="none").resolve_scale(
    x="independent", y="independent", theta="independent", radius="independent",
    color="independent", opacity="independent", size="independent"
).configure_view(stroke=None)
chart.save("out.html", embed_options={"renderer": "svg", "actions": False})
